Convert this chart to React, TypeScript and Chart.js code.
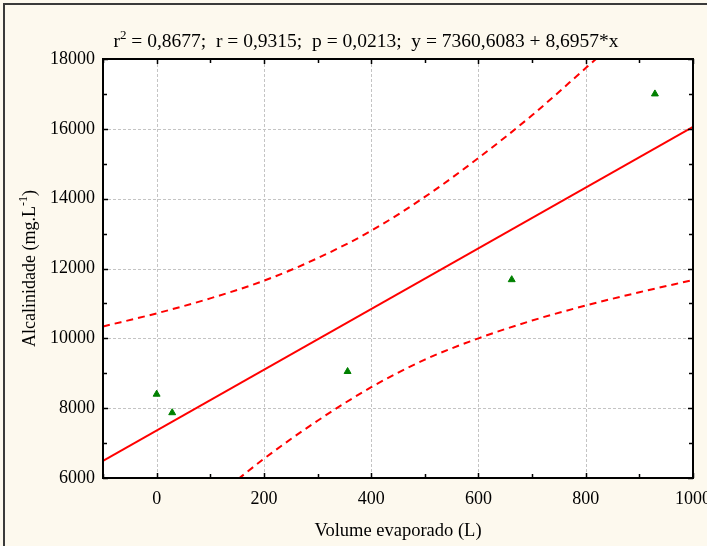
import React, { useEffect, useRef } from "react";
import { Chart, registerables } from "chart.js";

Chart.register(...registerables);

// Observed points (Volume evaporado, Alcalinidade)
const pointX = [0, 29, 356, 662, 929];
const pointY = [8400, 7870, 9050, 11680, 17000];

// Regression line end points (y = 7360,6083 + 8,6957*x)
const fitX = [-100, 1000];
const fitY = [6491, 16056];

// Confidence band
const upperX = [-100, 0, 100, 200, 300, 400, 500, 600, 700, 800, 900];
const upperY = [10340, 10715, 11145, 11650, 12295, 13080, 14050, 15165, 16390, 17740, 19100];
const lowerX = [100, 200, 300, 400, 500, 600, 700, 800, 900, 1000];
const lowerY = [5320, 6550, 7640, 8600, 9390, 10000, 10510, 10940, 11320, 11670];

// Axes
const xTicks = [0, 200, 400, 600, 800, 1000];
const yTicks = [6000, 8000, 10000, 12000, 14000, 16000, 18000];
const xMinor = [-100, 0, 100, 200, 300, 400, 500, 600, 700, 800, 900, 1000];
const yMinor = [6000, 7000, 8000, 9000, 10000, 11000, 12000, 13000, 14000, 15000, 16000, 17000, 18000];

const titleParts = ["r", "2", " = 0,8677;  r = 0,9315;  p = 0,0213;  y = 7360,6083 + 8,6957*x"];
const xTitle = "Volume evaporado (L)";
const yTitleParts = ["Alcalinidade (mg.L", "-1", ")"];

const FONT = "'Liberation Serif', 'Times New Roman', serif";
const BG = "#fdf9ee";

function drawSup(ctx: CanvasRenderingContext2D, parts: string[], cx: number, baseY: number, size: number) {
  const big = `${size}px ${FONT}`;
  const small = `${Math.round(size * 0.68)}px ${FONT}`;
  ctx.font = big;
  const w0 = ctx.measureText(parts[0]).width;
  const w2 = ctx.measureText(parts[2]).width;
  ctx.font = small;
  const w1 = ctx.measureText(parts[1]).width;
  const total = w0 + w1 + w2;
  let x = cx - total / 2;
  ctx.textAlign = "left";
  ctx.textBaseline = "alphabetic";
  ctx.font = big;
  ctx.fillText(parts[0], x, baseY);
  x += w0;
  ctx.font = small;
  ctx.fillText(parts[1], x, baseY - size * 0.42);
  x += w1;
  ctx.font = big;
  ctx.fillText(parts[2], x, baseY);
}

const decoPlugin = {
  id: "deco",
  beforeDraw(chart: any) {
    const { ctx, chartArea: a, width, height } = chart;
    ctx.save();
    ctx.fillStyle = BG;
    ctx.fillRect(0, 0, width, height);
    ctx.fillStyle = "#ffffff";
    ctx.fillRect(a.left, a.top, a.right - a.left, a.bottom - a.top);
    // outer frame
    ctx.fillStyle = "#3a3a3a";
    ctx.fillRect(3, 3, 2, height);
    ctx.fillRect(3, 3, width, 2);
    // grid
    const xs = chart.scales.x;
    const ys = chart.scales.y;
    ctx.strokeStyle = "#c4c4c4";
    ctx.lineWidth = 1;
    ctx.setLineDash([3, 2]);
    ctx.beginPath();
    xTicks.forEach((v) => {
      const px = Math.round(xs.getPixelForValue(v)) + 0.5;
      ctx.moveTo(px, a.top);
      ctx.lineTo(px, a.bottom);
    });
    yTicks.forEach((v) => {
      const py = Math.round(ys.getPixelForValue(v)) + 0.5;
      ctx.moveTo(a.left, py);
      ctx.lineTo(a.right, py);
    });
    ctx.stroke();
    ctx.restore();
  },
  afterDraw(chart: any) {
    const { ctx, chartArea: a } = chart;
    const xs = chart.scales.x;
    const ys = chart.scales.y;
    ctx.save();
    ctx.setLineDash([]);
    ctx.strokeStyle = "#000000";
    ctx.lineWidth = 2;
    ctx.strokeRect(a.left, a.top, a.right - a.left, a.bottom - a.top);
    ctx.lineWidth = 1.5;
    ctx.beginPath();
    xMinor.forEach((v) => {
      const px = Math.round(xs.getPixelForValue(v)) + 0.5;
      const len = xTicks.includes(v) ? 5 : 4;
      ctx.moveTo(px, a.bottom);
      ctx.lineTo(px, a.bottom - len);
      ctx.moveTo(px, a.top);
      ctx.lineTo(px, a.top + len);
    });
    yMinor.forEach((v) => {
      const py = Math.round(ys.getPixelForValue(v)) + 0.5;
      const len = yTicks.includes(v) ? 5 : 4;
      ctx.moveTo(a.left, py);
      ctx.lineTo(a.left + len, py);
      ctx.moveTo(a.right, py);
      ctx.lineTo(a.right - len, py);
    });
    ctx.stroke();

    ctx.fillStyle = "#000000";
    // title
    drawSup(ctx, titleParts, 366, 47, 19.5);
    // x title
    ctx.font = `18.5px ${FONT}`;
    ctx.textAlign = "center";
    ctx.textBaseline = "alphabetic";
    ctx.fillText(xTitle, (a.left + a.right) / 2, 536);
    // y title
    ctx.save();
    ctx.translate(35, (a.top + a.bottom) / 2);
    ctx.rotate(-Math.PI / 2);
    drawSup(ctx, yTitleParts, 0, 0, 18);
    ctx.restore();
    ctx.restore();
  },
};

export default function App() {
  const ref = useRef<HTMLCanvasElement | null>(null);
  useEffect(() => {
    if (!ref.current) return;
    const pts = pointX.map((x, i) => ({ x, y: pointY[i] }));
    const fit = fitX.map((x, i) => ({ x, y: fitY[i] }));
    const up = upperX.map((x, i) => ({ x, y: upperY[i] }));
    const lo = lowerX.map((x, i) => ({ x, y: lowerY[i] }));
    const chart = new Chart(ref.current, {
      type: "scatter",
      data: {
        datasets: [
          {
            label: "Upper 95%",
            data: up,
            showLine: true,
            borderColor: "#ff0000",
            borderWidth: 2,
            borderDash: [7, 5],
            pointRadius: 0,
            cubicInterpolationMode: "monotone",
            fill: false,
          },
          {
            label: "Lower 95%",
            data: lo,
            showLine: true,
            borderColor: "#ff0000",
            borderWidth: 2,
            borderDash: [7, 5],
            pointRadius: 0,
            cubicInterpolationMode: "monotone",
            fill: false,
          },
          {
            label: "Fit",
            data: fit,
            showLine: true,
            borderColor: "#ff0000",
            borderWidth: 2,
            pointRadius: 0,
            fill: false,
          },
          {
            label: "Dados",
            data: pts,
            showLine: false,
            pointStyle: "triangle",
            pointRadius: 4,
            pointBackgroundColor: "#008000",
            pointBorderColor: "#008000",
            pointBorderWidth: 1,
          },
        ],
      },
      options: {
        animation: false,
        responsive: false,
        layout: { padding: { top: 59, right: 14, left: 0, bottom: 0 } },
        plugins: { legend: { display: false }, tooltip: { enabled: false }, title: { display: false } },
        scales: {
          x: {
            type: "linear",
            min: -100,
            max: 1000,
            grid: { display: false, drawTicks: false },
            border: { display: false },
            afterBuildTicks: (s: any) => {
              s.ticks = xTicks.map((v) => ({ value: v }));
            },
            afterFit: (s: any) => {
              s.height = 68;
              s.paddingLeft = 0;
              s.paddingRight = 0;
            },
            ticks: {
              color: "#000000",
              font: { family: FONT, size: 18 },
              padding: 10,
              maxRotation: 0,
              autoSkip: false,
              callback: (v: any) => String(v),
            },
          },
          y: {
            type: "linear",
            min: 6000,
            max: 18000,
            grid: { display: false, drawTicks: false },
            border: { display: false },
            afterBuildTicks: (s: any) => {
              s.ticks = yTicks.map((v) => ({ value: v }));
            },
            afterFit: (s: any) => {
              s.width = 103;
              s.paddingTop = 0;
              s.paddingBottom = 0;
            },
            ticks: {
              color: "#000000",
              font: { family: FONT, size: 18 },
              padding: 8,
              autoSkip: false,
              callback: (v: any) => String(v),
            },
          },
        },
      },
      plugins: [decoPlugin],
    } as any);
    return () => chart.destroy();
  }, []);
  return (
    <div style={{ position: "absolute", left: 0, top: 0, width: 707, height: 546 }}>
      <canvas ref={ref} width={707} height={546} style={{ display: "block" }} />
    </div>
  );
}
